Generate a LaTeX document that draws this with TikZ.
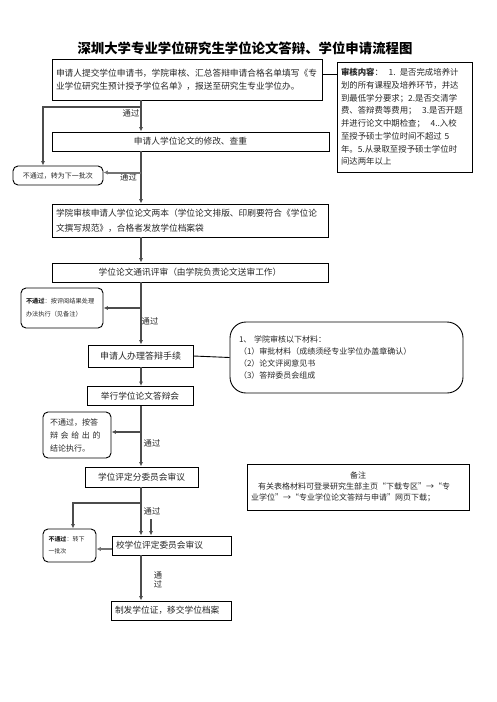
\documentclass[tikz,border=0pt]{standalone}
\usepackage{fontspec}
\setmainfont{Noto Sans CJK SC}
\usepackage{tikz}
\usetikzlibrary{arrows.meta, calc}
\newcommand{\fsz}[2]{\fontsize{#1}{#2}\selectfont}

\begin{document}
\begin{tikzpicture}[x=1pt, y=-1pt,
  box/.style={rectangle, draw, line width=0.9pt, inner sep=3pt, text=black!85, font=\fsz{8.7}{13}},
  failbox/.style={rectangle, draw, rounded corners=5pt, line width=0.9pt, inner sep=3pt, align=left, text=black!85},
  arrow/.style={-{Latex[length=4.5pt,width=4pt]}, line width=1.2pt, black!70},
  grayarrow/.style={-{Latex[length=4.5pt,width=4.5pt]}, line width=2pt, black!55},
  link/.style={line width=0.9pt},
  passlabel/.style={font=\fsz{8.3}{9.5}, text=black!85, inner sep=1pt}
]
\useasboundingbox (0,0) rectangle (496,702);
\node[font=\bfseries\fsz{13.4}{16}] (title) at (245,48) {深圳大学专业学位研究生学位论文答辩、学位申请流程图};
\node[box, minimum width=270pt, minimum height=41pt, text width=262pt, align=left] (apply) at (187,79.5) {申请人提交学位申请书，学院审核、汇总答辩申请合格名单填写《专\\业学位研究生预计授予学位名单》，报送至研究生专业学位办。\\[4pt]};
\node[box, minimum width=135pt, minimum height=110pt, text width=127pt, align=left, font=\fsz{8.4}{12.7}] (check) at (404.5,117) {\textbf{审核内容}：~~1. 是否完成培养计\\划的所有课程及培养环节，并达\\到最低学分要求；2.是否交清学\\费、答辩费等费用；~~3.是否开题\\并进行论文中期检查；~~4..入校\\至授予硕士学位时间不超过~5\\年。5.从录取至授予硕士学位时\\间达两年以上};
\node[box, minimum width=277pt, minimum height=19pt] (revise) at (190.5,141.5) {申请人学位论文的修改、查重};
\node[failbox, minimum width=90pt, minimum height=19pt, font=\fsz{7}{9}] (fail1) at (58,175.5) {不通过，转为下一批次};
\node[box, minimum width=276pt, minimum height=33pt, text width=268pt, align=left, font=\fsz{8.7}{15}] (review) at (190,220.5) {学院审核申请人学位论文两本（学位论文排版、印刷要符合《学位论\\文撰写规范》，合格者发放学位档案袋};
\node[box, minimum width=276pt, minimum height=19pt] (mail) at (190,272.5) {学位论文通讯评审（由学院负责论文送审工作）};
\node[failbox, minimum width=82pt, minimum height=40pt, text width=72pt, font=\fsz{6.2}{13}] (fail2) at (62,308) {\textbf{不通过}：按评阅结果处理\\办法执行（见备注）};
\node[box, minimum width=105pt, minimum height=22pt, font=\fsz{9}{13}] (prep) at (140.5,356) {申请人办理答辩手续};
\node[box, rounded corners=16pt, minimum width=233pt, minimum height=71pt, text width=215pt, align=left, font=\fsz{8}{12.3}] (docs) at (346.5,357.5) {1、 学院审核以下材料：\\（1）审批材料（成绩须经专业学位办盖章确认）\\（2）论文评阅意见书\\（3）答辩委员会组成\\};
\node[box, minimum width=106pt, minimum height=19pt] (defense) at (140,396) {举行学位论文答辩会};
\node[failbox, minimum width=68pt, minimum height=46pt, text width=54pt, font=\fsz{8}{13}] (fail3) at (77,435) {不通过，按答\\辩~会~给~出~的\\结论执行。};
\node[box, minimum width=113pt, minimum height=20pt] (subcom) at (141.5,477) {学位评定分委员会审议};
\node[box, minimum width=222pt, minimum height=46pt, text width=214pt, align=left, font=\fsz{8}{11}] (note) at (358,487) {\makebox[214pt]{备注}\\\hspace*{7pt}有关表格材料可登录研究生部主页“下载专区”→“专\\业学位”→“专业学位论文答辩与申请”网页下载；};
\node[failbox, minimum width=53pt, minimum height=33pt, text width=42pt, font=\fsz{6}{12}] (fail4) at (69.5,545.5) {\textbf{不通过}：转下\\一批次};
\node[box, minimum width=119pt, minimum height=19pt, text width=111pt, align=left] (council) at (171.5,545.5) {校学位评定委员会审议};
\node[box, minimum width=120pt, minimum height=19pt, text width=112pt, align=left] (cert) at (171,610.5) {制发学位证，移交学位档案};
% pass labels
\node[passlabel] (pass1) at (131,113) {通过};
\node[passlabel] (pass2) at (128.5,177) {通过};
\node[passlabel] (pass3) at (150,321) {通过};
\node[passlabel] (pass4) at (152,443) {通过};
\node[passlabel] (pass5) at (152,511) {通过};
\node[passlabel, align=center] (pass6) at (158,580) {通\\过};
% connectors
\coordinate (trunk) at (141,0);
\coordinate (split1) at (141,107);
\coordinate (split2) at (141,503);
\coordinate (stray) at (151,519);
\draw[link] ([yshift=5.5pt]apply.east) -- ([yshift=5.5pt]apply.east -| check.west);
\draw[arrow] (apply.south -| trunk) -- (revise.north -| trunk);
\draw[arrow] (split1) -| ([xshift=-15pt]fail1.north);
\draw[arrow] (revise.south -| trunk) -- (review.north -| trunk);
\draw[grayarrow] ([yshift=3pt]fail1.east -| trunk) -- ([yshift=3pt]fail1.east);
\draw[arrow] (review.south -| trunk) -- (mail.north -| trunk);
\draw[arrow] (mail.south -| trunk) -- (prep.north -| trunk);
\draw[arrow] (fail2.east -| trunk) -- (fail2.east);
\draw[link] (prep.east) -- (docs.west);
\draw[arrow] (prep.south -| trunk) -- (defense.north -| trunk);
\draw[arrow] (defense.south -| trunk) -- (subcom.north -| trunk);
\draw[arrow] ([yshift=3pt]fail3.east -| trunk) -- ([yshift=3pt]fail3.east);
\draw[arrow] (subcom.south -| trunk) -- (council.north -| trunk);
\draw[arrow] (split2) -| ([xshift=3.5pt]fail4.north);
\draw[arrow] (stray) -- (stray |- council.north);
\draw[grayarrow] ([yshift=-3.5pt]council.west) -- ([yshift=-3.5pt]council.west -| fail4.east);
\draw[arrow] (council.south -| trunk) -- (cert.north -| trunk);
\end{tikzpicture}
\end{document}
